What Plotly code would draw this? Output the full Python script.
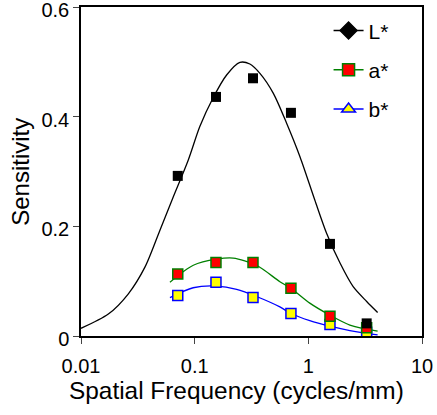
import plotly.graph_objects as go

# measured points (squares)
freq_pts = [0.071, 0.154, 0.326, 0.703, 1.55, 3.26]
L_pts = [0.292, 0.436, 0.470, 0.407, 0.168, 0.023]
a_pts = [0.113, 0.134, 0.134, 0.087, 0.036, 0.015]
b_pts = [0.074, 0.098, 0.070, 0.041, 0.021, 0.007]

# fitted curves
L_fx = [0.01, 0.0174, 0.0261, 0.0366, 0.0495, 0.0649, 0.0879, 0.111, 0.145, 0.191, 0.25,
        0.306, 0.375, 0.491, 0.644, 0.844, 1.14, 1.45, 1.90, 2.48, 3.26, 4.07]
L_fy = [0.014, 0.040, 0.077, 0.126, 0.193, 0.254, 0.321, 0.382, 0.434, 0.476, 0.499,
        0.496, 0.479, 0.443, 0.388, 0.327, 0.248, 0.187, 0.133, 0.090, 0.063, 0.043]
a_fx = [0.0606, 0.0973, 0.156, 0.218, 0.35, 0.562, 0.703, 1.03, 1.55, 2.32, 4.07]
a_fy = [0.098, 0.129, 0.140, 0.142, 0.129, 0.099, 0.087, 0.060, 0.038, 0.020, 0.009]
b_fx = [0.0606, 0.097, 0.156, 0.234, 0.35, 0.562, 0.703, 1.03, 1.55, 2.32, 4.07]
b_fy = [0.070, 0.088, 0.091, 0.085, 0.072, 0.053, 0.041, 0.028, 0.018, 0.010, 0.002]

series = [
    ("L*", L_fx, L_fy, L_pts, "black", "black", "black", "diamond"),
    ("a*", a_fx, a_fy, a_pts, "green", "red", "green", "square"),
    ("b*", b_fx, b_fy, b_pts, "blue", "yellow", "blue", "triangle-up"),
]

fig = go.Figure()

# curves and points
for name, fx, fy, pts, lc, mc, mlc, sym in series:
    fig.add_trace(go.Scatter(x=fx, y=fy, mode="lines", line=dict(color=lc, width=1.3, shape="spline", smoothing=0.8),
                             showlegend=False, hoverinfo="skip"))
for name, fx, fy, pts, lc, mc, mlc, sym in reversed(series):
    fig.add_trace(go.Scatter(x=freq_pts, y=pts, mode="markers", showlegend=False,
                             marker=dict(symbol="square", size=10, color=mc,
                                         line=dict(color=mlc, width=0 if mc == "black" else 1.5))))

# legend entries
for name, fx, fy, pts, lc, mc, mlc, sym in series:
    fig.add_trace(go.Scatter(x=[None], y=[None], mode="lines+markers", name=name, legendgroup=name,
                             line=dict(color=lc, width=1.5),
                             marker=dict(symbol=sym, size=12 if sym != "diamond" else 13, color=mc,
                                         line=dict(color=mlc, width=1.5))))

font_family = "Liberation Sans, Arial, sans-serif"
axis_font = dict(family=font_family, size=20, color="black")

fig.update_layout(
    width=437, height=415,
    margin=dict(l=81, r=15, t=7, b=79),
    plot_bgcolor="white", paper_bgcolor="white",
    font=dict(family=font_family, color="black"),
    legend=dict(x=0.726, y=0.99, xanchor="left", yanchor="top", traceorder="grouped",
                tracegroupgap=9, font=dict(size=21), bgcolor="rgba(0,0,0,0)"),
    xaxis=dict(type="log", range=[-2, 1], tickvals=[0.01, 0.1, 1, 10], ticktext=["0.01", "0.1", "1", "10"],
               ticks="outside", ticklen=6, tickwidth=1.3, showline=True, linecolor="black", linewidth=1.5,
               mirror=True, showgrid=False, zeroline=False, tickfont=axis_font, ticklabelstandoff=5,
               automargin=False, ticklabeloverflow="allow"),
    yaxis=dict(range=[0, 0.6], tickvals=[0, 0.2, 0.4, 0.6], ticktext=["0", "0.2", "0.4", "0.6"],
               ticks="outside", ticklen=6, tickwidth=1.3, showline=True, linecolor="black", linewidth=1.5,
               mirror=True, showgrid=False, zeroline=False, tickfont=axis_font, ticklabelshift=3,
               automargin=False, ticklabeloverflow="allow"),
    annotations=[
        dict(text="Spatial Frequency (cycles/mm)", xref="paper", yref="paper", x=-0.04, y=-0.165,
             xanchor="left", yanchor="middle", showarrow=False, font=dict(size=24.4)),
        dict(text="Sensitivity", xref="paper", yref="paper", x=-0.178, y=0.5,
             xanchor="center", yanchor="middle", textangle=-90, showarrow=False, font=dict(size=24)),
    ],
)

# drop the default body margin so the figure sits at the page corner
fig.write_html("out.html", config={"displayModeBar": False},
               post_script="document.body.style.margin='0';")
